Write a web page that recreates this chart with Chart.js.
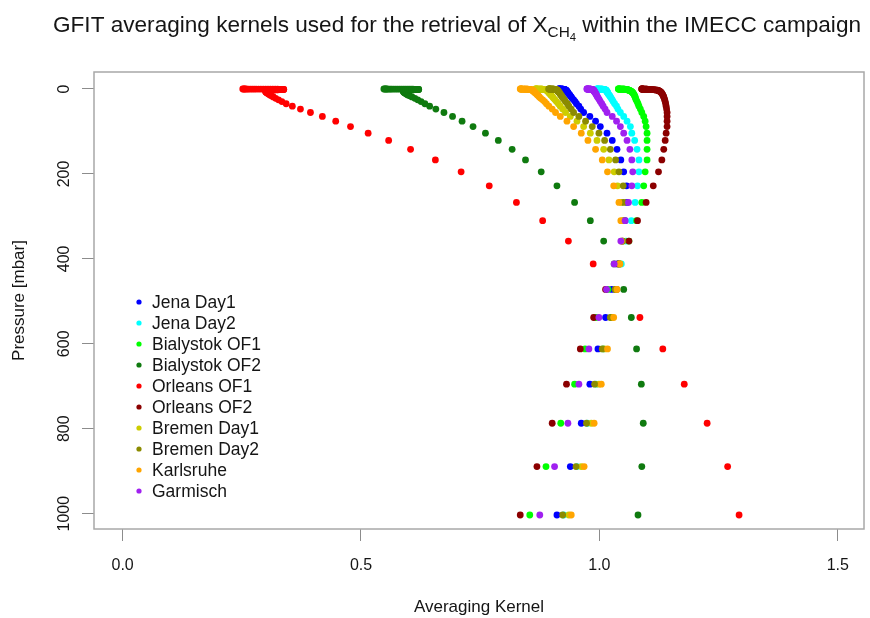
<!DOCTYPE html>
<html><head><meta charset="utf-8">
<script src="https://cdn.jsdelivr.net/npm/chart.js@4.4.1/dist/chart.umd.min.js"></script>
<style>html,body{margin:0;padding:0;background:#fff}canvas{display:block}</style>
</head><body>
<canvas id="c" width="870" height="618"></canvas>
<script>
// Pressure levels [mbar] (shared vertical grid, surface first)
const pressure = [1003, 889, 787, 695, 612, 538, 472, 412, 358, 310, 267, 228, 195, 167, 142, 121, 104, 88.5, 75.7, 64.7, 55.3,
  47.3, 40.5, 34.7, 29.7, 25.5, 21.9, 18.8, 16.2, 13.9, 12.0, 10.3, 8.9, 7.7, 6.6, 5.75, 5.0, 4.33, 3.77, 3.28,
  2.87, 2.51, 2.19, 1.92, 1.68, 1.49, 1.31, 1.15, 1.02, 0.90, 0.80, 0.70, 0.62, 0.55, 0.48, 0.43, 0.37, 0.33, 0.29, 0.25,
  0.22, 0.19, 0.17, 0.15, 0.13, 0.11, 0.097, 0.085, 0.074, 0.064, 0.056];

const xTicks = [0, 0.5, 1.0, 1.5];
const yTicks = [0, 200, 400, 600, 800, 1000];

const seriesNames = ['Jena Day1', 'Jena Day2', 'Bialystok OF1', 'Bialystok OF2', 'Orleans OF1', 'Orleans OF2',
  'Bremen Day1', 'Bremen Day2', 'Karlsruhe', 'Garmisch'];
const seriesColors = ['#0000FF', '#00FFFF', '#00FF00', '#0f7a0f', '#FF0000', '#8B0000',
  '#CDCD00', '#8B8B00', '#FFA500', '#A020F0'];

const jenaDay1 = [0.911,0.939,0.962,0.980,0.997,1.013,1.026,1.038,1.048,1.054,1.058,1.057,1.051,1.045,1.037,1.027,1.016,1.002,0.992,0.980,0.967,
  0.961,0.957,0.952,0.949,0.946,0.943,0.941,0.939,0.938,0.936,0.935,0.934,0.933,0.933,0.932,0.931,0.931,0.931,0.930,
  0.930,0.929,0.929,0.928,0.928,0.927,0.927,0.926,0.926,0.925,0.925,0.924,0.924,0.923,0.923,0.922,0.922,0.921,0.921,0.920,
  0.920,0.919,0.919,0.918,0.918,0.917,0.917,0.916,0.916,0.915,0.915];
const jenaDay2 = [0.925,0.953,0.975,0.993,1.008,1.025,1.035,1.046,1.056,1.067,1.075,1.080,1.083,1.083,1.079,1.074,1.068,1.065,1.058,1.051,1.044,
  1.039,1.036,1.032,1.029,1.027,1.025,1.023,1.022,1.020,1.019,1.018,1.017,1.017,1.016,1.016,1.015,1.015,1.014,1.014,
  1.014,1.013,1.013,1.012,1.012,1.011,1.010,1.010,1.009,1.008,1.008,1.007,1.007,1.006,1.005,1.005,1.004,1.003,1.003,1.002,
  1.001,1.001,1.000,1.000,0.999,0.998,0.998,0.997,0.996,0.996,0.995];
const bialystokOF1 = [0.854,0.888,0.919,0.948,0.970,0.993,1.018,1.042,1.062,1.078,1.089,1.093,1.096,1.100,1.100,1.100,1.100,1.098,1.096,1.093,1.089,
  1.086,1.083,1.081,1.079,1.077,1.076,1.075,1.074,1.073,1.072,1.071,1.070,1.069,1.068,1.067,1.066,1.065,1.064,1.063,
  1.062,1.061,1.060,1.060,1.059,1.058,1.057,1.057,1.056,1.055,1.054,1.054,1.053,1.052,1.051,1.051,1.050,1.049,1.048,1.048,
  1.047,1.046,1.045,1.045,1.044,1.043,1.042,1.042,1.041,1.040,1.040];
const bialystokOF2 = [1.081,1.089,1.092,1.088,1.078,1.067,1.051,1.031,1.009,0.981,0.948,0.911,0.878,0.845,0.817,0.788,0.761,0.735,0.712,0.692,0.674,
  0.657,0.644,0.634,0.626,0.619,0.613,0.607,0.602,0.598,0.595,0.593,0.591,0.590,0.589,0.589,0.590,0.592,0.595,0.598,
  0.601,0.604,0.607,0.610,0.613,0.616,0.619,0.621,0.621,0.619,0.616,0.613,0.609,0.605,0.601,0.597,0.593,0.589,0.585,0.581,
  0.577,0.573,0.569,0.565,0.562,0.559,0.556,0.554,0.552,0.550,0.548];
const orleansOF1 = [1.293,1.269,1.226,1.178,1.133,1.085,1.036,0.987,0.935,0.881,0.826,0.769,0.710,0.656,0.604,0.558,0.515,0.478,0.447,0.419,0.394,
  0.373,0.356,0.343,0.334,0.327,0.321,0.316,0.312,0.309,0.306,0.304,0.302,0.301,0.300,0.300,0.301,0.303,0.306,0.310,
  0.314,0.318,0.322,0.326,0.330,0.333,0.336,0.338,0.338,0.336,0.333,0.329,0.325,0.320,0.315,0.310,0.305,0.300,0.295,0.290,
  0.285,0.280,0.276,0.272,0.268,0.264,0.261,0.258,0.256,0.254,0.252];
const orleansOF2 = [0.834,0.869,0.901,0.931,0.960,0.988,1.013,1.040,1.062,1.080,1.098,1.113,1.124,1.131,1.135,1.138,1.140,1.142,1.142,1.142,1.142,
  1.141,1.140,1.139,1.138,1.137,1.136,1.135,1.134,1.133,1.132,1.131,1.130,1.129,1.128,1.127,1.126,1.125,1.124,1.123,
  1.122,1.120,1.118,1.116,1.114,1.112,1.110,1.108,1.106,1.104,1.102,1.101,1.100,1.099,1.098,1.097,1.096,1.095,1.094,1.093,
  1.093,1.092,1.092,1.091,1.091,1.090,1.090,1.090,1.089,1.089,1.089];
const bremenDay1 = [0.936,0.962,0.983,0.999,1.010,1.026,1.035,1.043,1.049,1.049,1.046,1.038,1.031,1.020,1.009,0.995,0.981,0.967,0.953,0.939,0.929,
  0.923,0.918,0.914,0.910,0.907,0.904,0.902,0.900,0.898,0.897,0.895,0.894,0.894,0.893,0.892,0.891,0.891,0.891,0.890,
  0.890,0.889,0.888,0.888,0.887,0.886,0.885,0.884,0.884,0.883,0.882,0.881,0.880,0.880,0.879,0.878,0.877,0.876,0.876,0.875,
  0.874,0.873,0.872,0.872,0.871,0.870,0.869,0.868,0.868,0.867,0.866];
const bremenDay2 = [0.923,0.951,0.973,0.990,1.006,1.023,1.033,1.042,1.049,1.052,1.051,1.050,1.041,1.034,1.023,1.011,0.999,0.985,0.971,0.957,0.946,
  0.941,0.936,0.933,0.929,0.927,0.924,0.922,0.921,0.919,0.918,0.917,0.916,0.915,0.914,0.914,0.913,0.913,0.913,0.912,
  0.912,0.911,0.911,0.910,0.910,0.909,0.908,0.908,0.907,0.906,0.906,0.905,0.905,0.904,0.903,0.903,0.902,0.902,0.901,0.900,
  0.900,0.899,0.899,0.898,0.897,0.897,0.896,0.896,0.895,0.894,0.894];
const karlsruhe = [0.941,0.968,0.989,1.004,1.017,1.030,1.037,1.043,1.046,1.045,1.041,1.030,1.017,1.006,0.992,0.976,0.962,0.946,0.932,0.918,0.908,
  0.901,0.894,0.889,0.885,0.881,0.877,0.874,0.872,0.870,0.868,0.867,0.865,0.864,0.863,0.863,0.862,0.861,0.861,0.860,
  0.860,0.859,0.858,0.857,0.857,0.856,0.855,0.854,0.853,0.852,0.851,0.850,0.850,0.849,0.848,0.847,0.846,0.845,0.844,0.843,
  0.843,0.842,0.841,0.840,0.839,0.838,0.837,0.836,0.836,0.835,0.834];
const garmisch = [0.875,0.906,0.934,0.957,0.978,0.999,1.015,1.031,1.045,1.054,1.061,1.068,1.070,1.068,1.064,1.058,1.051,1.044,1.036,1.027,1.016,
  1.012,1.008,1.005,1.002,1.000,0.998,0.996,0.995,0.994,0.993,0.992,0.991,0.991,0.990,0.989,0.989,0.989,0.988,0.988,
  0.988,0.988,0.987,0.987,0.986,0.986,0.985,0.985,0.984,0.984,0.983,0.983,0.982,0.982,0.981,0.981,0.980,0.980,0.979,0.979,
  0.978,0.978,0.977,0.977,0.976,0.976,0.976,0.975,0.975,0.974,0.974];

const seriesValues = [jenaDay1, jenaDay2, bialystokOF1, bialystokOF2, orleansOF1, orleansOF2,
  bremenDay1, bremenDay2, karlsruhe, garmisch];

const titleParts = ['GFIT averaging kernels used for the retrieval of X', 'CH', '4', ' within the IMECC campaign'];
const xTitle = 'Averaging Kernel';
const yTitle = 'Pressure [mbar]';

const FONT = "'Liberation Sans', Arial, Helvetica, sans-serif";
const TEXT = '#151515';

const datasets = seriesNames.map((name, i) => ({
  label: name,
  data: pressure.map((p, k) => ({ x: seriesValues[i][k], y: p })),
  backgroundColor: seriesColors[i],
  borderColor: seriesColors[i],
  pointRadius: 3.4,
  pointHoverRadius: 3.4,
  pointBorderWidth: 0,
  showLine: false,
  order: seriesNames.length - i
}));

const boxPlugin = {
  id: 'box',
  afterDraw(chart) {
    const { ctx, chartArea: a } = chart;
    ctx.save();
    ctx.strokeStyle = '#a8a8a8';
    ctx.lineWidth = 1.5;
    ctx.strokeRect(a.left, a.top, a.right - a.left, a.bottom - a.top);
    ctx.restore();
  }
};

const titlePlugin = {
  id: 'titleSub',
  afterDraw(chart) {
    const ctx = chart.ctx;
    ctx.save();
    ctx.fillStyle = TEXT;
    ctx.textBaseline = 'alphabetic';
    const parts = [
      [titleParts[0], `22px ${FONT}`, 0],
      [titleParts[1], `15px ${FONT}`, 5],
      [titleParts[2], `11px ${FONT}`, 9],
      [titleParts[3], `22px ${FONT}`, 0]
    ];
    let total = 0;
    parts.forEach(p => { ctx.font = p[1]; total += ctx.measureText(p[0]).width; });
    const targetWidth = 808, centerX = 457, y = 32;
    const sx = targetWidth / total;
    ctx.translate(centerX - targetWidth / 2, 0);
    ctx.scale(sx, 1);
    let x = 0;
    parts.forEach(p => { ctx.font = p[1]; ctx.fillText(p[0], x, y + p[2]); x += ctx.measureText(p[0]).width; });
    ctx.restore();
  }
};

const legendPlugin = {
  id: 'innerLegend',
  afterDraw(chart) {
    const ctx = chart.ctx;
    ctx.save();
    chart.data.datasets.forEach((ds, i) => {
      const y = 302 + 21 * i;
      ctx.beginPath();
      ctx.arc(139, y, 2.6, 0, Math.PI * 2);
      ctx.fillStyle = ds.backgroundColor;
      ctx.fill();
      ctx.fillStyle = TEXT;
      ctx.font = `17.5px ${FONT}`;
      ctx.textBaseline = 'middle';
      ctx.textAlign = 'left';
      ctx.fillText(ds.label, 152, y + 1);
    });
    ctx.restore();
  }
};

new Chart(document.getElementById('c'), {
  type: 'scatter',
  data: { datasets },
  options: {
    responsive: false,
    animation: false,
    devicePixelRatio: 1,
    events: [],
    layout: { padding: { top: 72, right: 6, left: 0, bottom: 0 } },
    plugins: { legend: { display: false }, tooltip: { enabled: false }, title: { display: false } },
    scales: {
      x: {
        type: 'linear', min: -0.06, max: 1.555,
        afterBuildTicks: s => { s.ticks = xTicks.map(v => ({ value: v })); },
        afterFit: s => { s.height = 89; },
        ticks: { callback: v => Number(v).toFixed(1), font: { family: FONT, size: 16 }, color: TEXT, padding: 15, maxRotation: 0, autoSkip: false },
        grid: { display: true, drawOnChartArea: false, drawTicks: true, tickLength: 12, color: '#8c8c8c', lineWidth: 1 },
        border: { display: false },
        title: { display: true, text: xTitle, font: { family: FONT, size: 17 }, color: TEXT, padding: { top: 0, bottom: 0 } }
      },
      y: {
        type: 'linear', reverse: true, min: -40, max: 1036,
        afterBuildTicks: s => { s.ticks = yTicks.map(v => ({ value: v })); },
        afterFit: s => { s.width = 94; },
        ticks: { callback: v => String(v), font: { family: FONT, size: 16 }, color: TEXT, padding: 0, minRotation: 90, maxRotation: 90, crossAlign: 'center', autoSkip: false },
        grid: { display: true, drawOnChartArea: false, drawTicks: true, tickLength: 12, color: '#8c8c8c', lineWidth: 1 },
        border: { display: false },
        title: { display: true, text: yTitle, font: { family: FONT, size: 17 }, color: TEXT, padding: { top: 9, bottom: 0 } }
      }
    }
  },
  plugins: [boxPlugin, titlePlugin, legendPlugin]
});
</script>
</body></html>
